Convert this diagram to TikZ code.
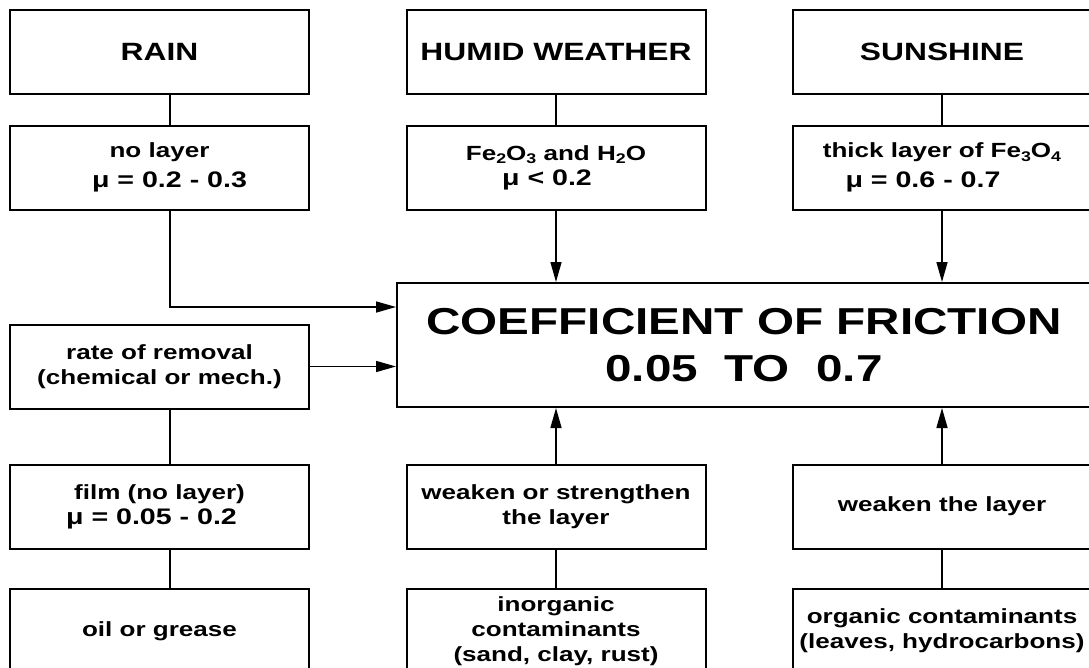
\documentclass[tikz,border=0pt]{standalone}
\usepackage{fontspec}
\newfontfamily\figfont{Liberation Sans}[FakeStretch=1.27]
\usetikzlibrary{arrows.meta,positioning}

\newcommand{\chem}[1]{\raisebox{-0.35ex}{\fontsize{14}{14}\selectfont #1}}
\newcommand{\muline}{\fontsize{22.5}{26}\selectfont}

\tikzset{
  cell/.style={draw, line width=2pt, minimum width=299pt, minimum height=84pt,
    inner sep=0pt, align=center, font=\figfont\bfseries\fontsize{20.5}{25}\selectfont},
  head/.style={cell, font=\figfont\bfseries\fontsize{25}{30}\selectfont},
  link/.style={line width=1.5pt}
}

\begin{document}
\begin{tikzpicture}[x=1pt,y=-1pt,on grid,>={Triangle[length=20pt,width=11pt]}]
   \useasboundingbox (0,0) rectangle (1089,667);

   % sources
   \node[head] (rain) at (159.5,52)        {RAIN};
   \node[head] (humid) [right=396.5pt of rain] {HUMID WEATHER};
   \node[head] (sun)   [right=386pt of humid]  {SUNSHINE};

   % surface layers
   \node[cell] (nolayer) [below=115.5pt of rain]  {no layer\\[5pt]\muline\hspace*{20pt}μ = 0.2 - 0.3};
   \node[cell] (fe)      [below=115.5pt of humid] {Fe\chem{2}O\chem{3} and H\chem{2}O\\\muline μ < 0.2\hspace*{18pt}};
   \node[cell] (thick)   [below=115.5pt of sun]   {thick layer of Fe\chem{3}O\chem{4}\\[5pt]\muline μ = 0.6 - 0.7\hspace*{38pt}};

   \node[cell, minimum width=694pt, minimum height=124pt,
         font=\figfont\bfseries\fontsize{37.5}{47}\selectfont]
         (coef) [below right=177.5pt and 188pt of fe] {COEFFICIENT OF FRICTION\\0.05\ \ TO\ \ 0.7};

   \node[cell] (rate)  [below=199pt of nolayer] {rate of removal\\(chemical or mech.)};
   \node[cell] (film)  [below=140pt of rate]    {film (no layer)\\\muline μ = 0.05 - 0.2\hspace*{16pt}};
   \node[cell] (weak)  [below=339pt of fe]      {weaken or strengthen\\the layer};
   \node[cell] (weakl) [below=339pt of thick]   {weaken the layer};

   % contaminants
   \node[cell] (oil)     [below=124.5pt of film]  {oil or grease};
   \node[cell] (inorg)   [below=124.5pt of weak]  {inorganic\\contaminants\\(sand, clay, rust)};
   \node[cell] (organic) [below=124.5pt of weakl] {organic contaminants\\(leaves, hydrocarbons)};

   \draw[link] ([xshift=10.5pt]rain.south) -- ([xshift=10.5pt]nolayer.north);
   \draw[link] (humid) -- (fe);
   \draw[link] (sun) -- (thick);
   \draw[link,->] ([xshift=10.5pt]nolayer.south) |- ([yshift=38pt]coef.west);
   \draw[link,->] (rate) -- (rate -| coef.west);
   \draw[link,->] (fe) -- (fe |- coef.north);
   \draw[link,->] (thick) -- (thick |- coef.north);
   \draw[link,->] (weak) -- (weak |- coef.south);
   \draw[link,->] (weakl) -- (weakl |- coef.south);
   \draw[link] ([xshift=10.5pt]rate.south) -- ([xshift=10.5pt]film.north);
   \draw[link] ([xshift=10.5pt]film.south) -- ([xshift=10.5pt]oil.north);
   \draw[link] (weak) -- (inorg);
   \draw[link] (weakl) -- (organic);
\end{tikzpicture}
\end{document}
